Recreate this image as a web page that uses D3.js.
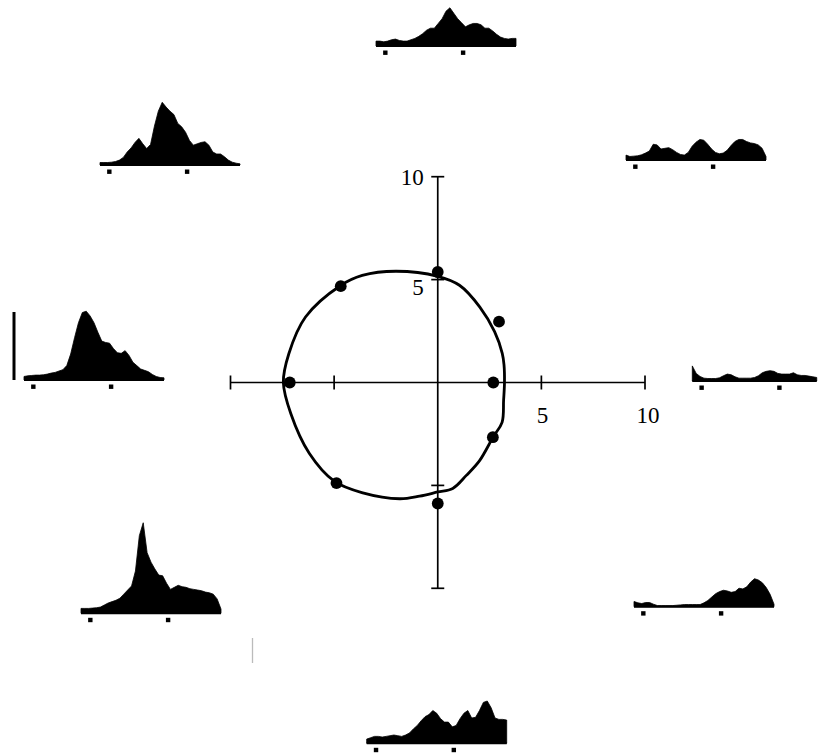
<html><head>
  <script src="https://d3js.org/d3.v7.min.js"></script>
  <style>
    body { margin: 0; background: white; }
    text { font-family: 'Liberation Serif', 'DejaVu Serif', serif; font-size: 23px; fill: black; }
  </style>
</head>
<body>
  <svg id="plot" width="819" height="756"></svg>
  <script>
    // direction of motion (deg) and mean rate (spikes/s, /10 on polar axes)
    const directions = [0, 45, 90, 135, 180, 225, 270, 315];
    const meanRates = [2.68, 4.18, 5.37, 6.62, 7.14, 6.91, 5.88, 3.76];

    // fitted tuning curve
    const fitAngles = [0, 15, 24.5, 42, 61, 77.5, 90, 110.5, 125, 135, 153.5, 169, 180, 192, 209, 224, 236, 252, 261, 270, 278, 287, 298, 316, 328, 345];
    const fitRates  = [3.22, 3.31, 3.42, 3.69, 4.19, 4.84, 5.16, 5.77, 6.35, 6.65, 7.13, 7.32, 7.45, 7.25, 7.09, 6.92, 6.47, 5.94, 5.59, 5.32, 5.2, 4.72, 4.3, 3.75, 3.66, 3.29];

    const axisTicks = [-10, -5, 5, 10];
    const yLabels = [10, 5];
    const xLabels = [5, 10];

    // PSTH bins (ms from stimulus onset)
    const binTimes = [-120, -70, -20, 30, 80, 130, 180, 230, 280, 330, 380, 430, 480, 530, 580, 630, 680, 730, 780,
                      830, 880, 930, 980, 1030, 1080, 1130, 1180, 1230, 1280, 1330, 1380, 1430, 1480, 1530, 1580, 1630, 1680];
    const timeTicks = [0, 1000];
    const scaleBarRate = 100;

    const psth0   = [21, 10, 5.5, 3, 2.5, 2.5, 2.5, 3.5, 6.5, 9, 8, 5, 3, 3, 3, 3, 4, 6.5, 11, 13, 14, 13, 10, 9, 9, 9, 11, 8, 7, 7, 6, 5, 4];
    const psth45  = [6, 4, 4.5, 5, 6.5, 9, 12, 22, 21, 15, 16, 17, 14, 10, 7, 6, 10, 19, 25, 29, 28, 22, 15, 10, 8, 9, 13, 20, 26, 29, 29, 26, 24, 23, 21, 16, 4];
    const psth90  = [6, 6, 5, 6, 8, 9, 7, 6, 6, 8, 10, 13, 17, 22, 25, 25, 32, 39, 50, 55, 47, 39, 33, 27, 30, 32, 32, 30, 25, 25, 21, 16, 12, 10, 9, 10, 10];
    const psth135 = [2.5, 2.5, 2.5, 3, 4, 6, 10, 18, 24, 32, 38, 30, 23, 29, 56, 78, 91, 84, 78, 73, 60, 55, 47, 35, 28, 30, 32, 33, 28, 18, 15, 15, 11, 6, 3, 1.5, 0.5];
    const psth180 = [4, 5, 5.5, 6, 6, 6.5, 7.5, 9, 10, 12, 14, 20, 37, 61, 83, 98, 100, 93, 83, 69, 56, 54, 53, 45, 39, 38, 42, 35, 25, 20, 15, 13, 11, 7, 4, 2.5, 2];
    const psth225 = [6, 6, 6, 6.5, 7, 8, 11, 14, 16, 18, 21, 27, 33, 39, 61, 113, 132, 88, 74, 64, 55, 54, 43, 34, 37, 40, 38, 37, 35, 34, 33, 32, 30, 29, 27, 20, 5];
    const psth270 = [5, 7, 9, 9, 8, 9, 10, 11, 10, 9, 11, 14, 20, 25, 32, 38, 41, 47, 43, 35, 30, 30, 23, 25, 35, 43, 47, 36, 37, 47, 59, 61, 51, 36, 34, 34, 33];
    const psth315 = [6.5, 4.5, 3.5, 5, 5, 2.5, 0.5, 0.5, 0.5, 0.5, 0.5, 1, 1.5, 2, 2, 2, 2, 2, 4.5, 8, 13, 18, 21, 23, 22, 20, 21, 26, 25, 28, 35, 40, 38, 34, 27, 17, 2.5];

    const svg = d3.select("#plot");

    // polar summary axes
    const x = d3.scaleLinear().domain([-10, 10]).range([230.5, 645]);
    const y = d3.scaleLinear().domain([-10, 10]).range([588.3, 176.7]);

    const axes = svg.append("g").attr("stroke", "black").attr("stroke-width", 1.7);
    axes.append("line").attr("x1", x(-10)).attr("x2", x(10)).attr("y1", y(0)).attr("y2", y(0));
    axes.append("line").attr("x1", x(0)).attr("x2", x(0)).attr("y1", y(-10)).attr("y2", y(10));
    axes.selectAll("line.xt").data(axisTicks).join("line").attr("class", "xt")
        .attr("x1", d => x(d)).attr("x2", d => x(d))
        .attr("y1", y(0) - 7).attr("y2", y(0) + 7);
    axes.selectAll("line.yt").data(axisTicks).join("line").attr("class", "yt")
        .attr("y1", d => y(d)).attr("y2", d => y(d))
        .attr("x1", x(0) - 6.5).attr("x2", x(0) + 6.5);

    svg.selectAll("text.yl").data(yLabels).join("text").attr("class", "yl")
        .attr("x", x(0) - 14)
        .attr("y", d => y(d) + (d === 5 ? 15 : 8))
        .attr("text-anchor", "end")
        .text(d => d);
    svg.selectAll("text.xl").data(xLabels).join("text").attr("class", "xl")
        .attr("x", d => x(d) + (d === 10 ? 3 : 1))
        .attr("y", y(0) + 40)
        .attr("text-anchor", "middle")
        .text(d => d);

    const rad = a => a * Math.PI / 180;
    const fit = fitAngles.map((a, i) => ({a: a, r: fitRates[i]}));
    const curve = d3.line()
        .x(d => x(d.r * Math.cos(rad(d.a))))
        .y(d => y(d.r * Math.sin(rad(d.a))))
        .curve(d3.curveCatmullRomClosed);
    svg.append("path").datum(fit)
        .attr("d", curve)
        .attr("fill", "none").attr("stroke", "black").attr("stroke-width", 2.8);

    svg.selectAll("circle.pt").data(directions).join("circle").attr("class", "pt")
        .attr("cx", (d, i) => x(meanRates[i] * Math.cos(rad(d))))
        .attr("cy", (d, i) => y(meanRates[i] * Math.sin(rad(d))))
        .attr("r", 5.9)
        .attr("fill", "black");

    // PSTH panels around the polar plot
    const t = d3.scaleLinear().domain([-120, 1680]).range([0, 140]);
    const h = d3.scaleLinear().domain([0, 100]).range([0, 68]);

    const panels = [
      {rates: psth0,   left: 692.3, base: 381},
      {rates: psth45,  left: 626,   base: 160},
      {rates: psth90,  left: 376,   base: 46},
      {rates: psth135, left: 100,   base: 165},
      {rates: psth180, left: 24,    base: 380, bar: true},
      {rates: psth225, left: 81,    base: 613.3},
      {rates: psth270, left: 366.7, base: 743.3},
      {rates: psth315, left: 634,   base: 606.7}
    ];

    const area = d3.area()
        .x((d, i) => t(binTimes[i]))
        .y0(0)
        .y1(d => -h(d) - 0.8)
        .curve(d3.curveLinear);

    panels.forEach(p => {
      const g = svg.append("g").attr("transform", `translate(${p.left},${p.base})`);
      g.append("path").datum(p.rates).attr("d", area)
        .attr("fill", "black").attr("stroke", "black").attr("stroke-width", 0.8);
      g.append("line")
        .attr("x1", 0).attr("x2", t(binTimes[p.rates.length - 1]))
        .attr("y1", 0).attr("y2", 0)
        .attr("stroke", "black").attr("stroke-width", 2);
      g.selectAll("rect").data(timeTicks).join("rect")
        .attr("x", d => t(d) - 2.2).attr("y", 4.5)
        .attr("width", 4.4).attr("height", 4.4)
        .attr("fill", "black");
      if (p.bar) {
        g.append("line")
          .attr("x1", -10).attr("x2", -10)
          .attr("y1", 0).attr("y2", -h(scaleBarRate))
          .attr("stroke", "black").attr("stroke-width", 3);
      }
    });

    // faint stray mark below the left panels
    svg.append("line")
      .attr("x1", 252.5).attr("x2", 252.5).attr("y1", 638).attr("y2", 663)
      .attr("stroke", "#bbb").attr("stroke-width", 1.3);
  </script>
</body>
</html>
